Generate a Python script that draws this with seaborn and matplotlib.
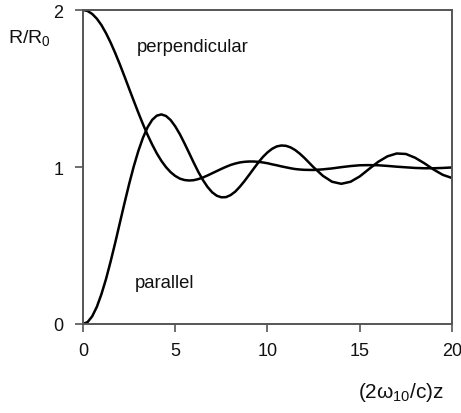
import matplotlib
matplotlib.use("Agg")
import matplotlib.pyplot as plt
import pandas as pd
import seaborn as sns

# values: every 0.25 up to 12 (where the curves bend most), then every 0.5
Z = [0.0, 0.25, 0.5, 0.75, 1.0, 1.25, 1.5, 1.75, 2.0, 2.25, 2.5, 2.75,
     3.0, 3.25, 3.5, 3.75, 4.0, 4.25, 4.5, 4.75, 5.0, 5.25, 5.5, 5.75,
     6.0, 6.25, 6.5, 6.75, 7.0, 7.25, 7.5, 7.75, 8.0, 8.25, 8.5, 8.75,
     9.0, 9.25, 9.5, 9.75, 10.0, 10.25, 10.5, 10.75, 11.0, 11.25, 11.5, 11.75,
     12.0, 12.5, 13.0, 13.5, 14.0, 14.5, 15.0, 15.5, 16.0, 16.5, 17.0, 17.5,
     18.0, 18.5, 19.0, 19.5, 20.0]

PERPENDICULAR = [2.000, 1.994, 1.975, 1.945, 1.904, 1.852, 1.792, 1.725, 1.653, 1.577, 1.499, 1.422,
                 1.346, 1.273, 1.205, 1.143, 1.087, 1.039, 0.999, 0.967, 0.943, 0.926, 0.917, 0.914,
                 0.916, 0.923, 0.933, 0.946, 0.960, 0.974, 0.988, 1.001, 1.013, 1.022, 1.029, 1.033,
                 1.035, 1.035, 1.033, 1.029, 1.024, 1.017, 1.011, 1.004, 0.998, 0.992, 0.987, 0.984,
                 0.982, 0.981, 0.985, 0.991, 0.999, 1.006, 1.011, 1.012, 1.011, 1.007, 1.002, 0.998,
                 0.994, 0.992, 0.992, 0.994, 0.997]

PARALLEL = [0.000, 0.012, 0.049, 0.109, 0.190, 0.287, 0.399, 0.519, 0.645, 0.770, 0.891, 1.003,
            1.102, 1.186, 1.253, 1.300, 1.327, 1.335, 1.325, 1.299, 1.259, 1.209, 1.151, 1.090,
            1.028, 0.969, 0.917, 0.873, 0.839, 0.817, 0.807, 0.808, 0.821, 0.843, 0.874, 0.910,
            0.949, 0.989, 1.028, 1.064, 1.093, 1.116, 1.131, 1.137, 1.135, 1.125, 1.108, 1.085,
            1.058, 0.998, 0.944, 0.906, 0.893, 0.906, 0.940, 0.987, 1.033, 1.068, 1.086, 1.083,
            1.059, 1.024, 0.984, 0.950, 0.930]

X_TICKS = [0, 5, 10, 15, 20]
Y_TICKS = [0, 1, 2]

sns.set_style("ticks")
plt.rcParams["font.family"] = ["Liberation Sans", "DejaVu Sans"]
plt.rcParams["mathtext.fontset"] = "custom"
plt.rcParams["mathtext.rm"] = "Liberation Sans"
plt.rcParams["mathtext.it"] = "Liberation Sans"

df = pd.DataFrame({
    "z": Z * 2,
    "R": PERPENDICULAR + PARALLEL,
    "orientation": ["perpendicular"] * len(Z) + ["parallel"] * len(Z),
})

fig = plt.figure(figsize=(4.61, 4.14), dpi=100)
ax = fig.add_axes([0.180, 0.215, 0.8005, 0.7584])

sns.lineplot(data=df, x="z", y="R", hue="orientation",
             palette={"perpendicular": "black", "parallel": "black"},
             linewidth=1.8, legend=False, ax=ax)

ax.set_xlim(0, 20)
ax.set_ylim(0, 2)
ax.set_xticks(X_TICKS)
ax.set_yticks(Y_TICKS)
ax.set_xlabel("")
ax.set_ylabel("")

for side in ["left", "bottom", "top", "right"]:
    ax.spines[side].set_color("#555555")
    ax.spines[side].set_linewidth(1.4)
ax.tick_params(axis="both", direction="out", length=6, width=1.2,
               color="#555555", labelsize=13, labelcolor="#111111")
ax.tick_params(axis="x", pad=7)
ax.tick_params(axis="y", pad=8)

ax.text(2.93, 1.739, "perpendicular", fontsize=13.3, color="#111111", va="baseline")
ax.text(2.82, 0.236, "parallel", fontsize=13.3, color="#111111", va="baseline")

fig.text(0.017, 0.896, r"R/R$_0$", fontsize=14, color="#111111", va="baseline")
fig.text(0.777, 0.0386, r"(2$\omega_{10}$/c)z", fontsize=15, color="#111111",
         va="baseline")

fig.savefig("out.png", dpi=100)
